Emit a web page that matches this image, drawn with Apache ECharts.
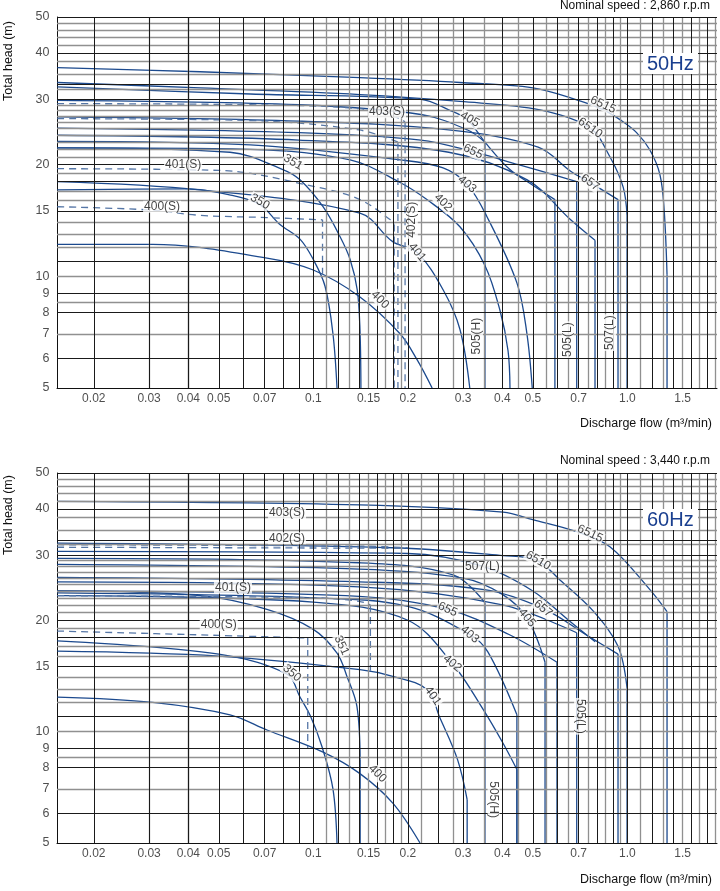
<!DOCTYPE html>
<html><head><meta charset="utf-8">
<script src="https://cdn.jsdelivr.net/npm/echarts@6/dist/echarts.min.js"></script>
<style>html,body{margin:0;padding:0;background:#fff;}#c{width:720px;height:891px;}</style>
</head><body><div id="c"></div>
<script>
// ---------- axes / ticks ----------
const X_MIN = 0.01527, X_MAX = 1.93, Y_MIN = 5, Y_MAX = 50;
const xTickValues = [0.02,0.03,0.04,0.05,0.07,0.1,0.15,0.2,0.3,0.4,0.5,0.7,1.0,1.5];
const xTickLabels = ['0.02','0.03','0.04','0.05','0.07','0.1','0.15','0.2','0.3','0.4','0.5','0.7','1.0','1.5'];
const yTickValues = [5,6,7,8,9,10,15,20,30,40,50];
const yTickLabels = ['5','6','7','8','9','10','15','20','30','40','50'];
const xGridBlack = [0.02,0.03,0.04,0.05,0.06,0.07,0.08,0.09,0.1,0.12,0.14,0.16,0.18,0.2,0.25,0.3,0.4,0.5,0.6,0.7,0.8,0.9,1.0,1.2,1.4,1.6,1.8];
const xGridGray = [0.025,0.035,0.045,0.11,0.13,0.15,0.17,0.19,0.22,0.28,0.35,0.45,0.55,0.65,0.75,0.85,0.95,1.1,1.3,1.5,1.7,1.9];
const yGridBlack = [6,8,9,11,15,18,20,30,33,40,50];
const yGridGray = [7,8.5,10,12,13,14,16,17,19,21,22,23,24,25,26,27,28,29,32,35,38,42,44,46,48];

// ---------- 50 Hz curves [flow m3/min, head m] ----------
const c50_6515 = [[0.0153,36.5],[0.0436,35.6],[0.1408,34.3],[0.293,33.3],[0.50,32.2],[0.69,29.9],[0.84,28.1],[0.95,26.4],[1.07,24.4],[1.18,21.9],[1.27,18.8],[1.31,15.1],[1.338,10.1],[1.338,5]];
const c50_6510 = [[0.0153,33.3],[0.0436,32.2],[0.1408,30.9],[0.293,29.6],[0.527,28.1],[0.761,25.1],[0.88,21.0],[0.97,17.4],[0.998,14.6],[0.998,5]];
const c50_405  = [[0.0153,32.4],[0.063,31.0],[0.22,30.0],[0.27,28.1],[0.31,26.4],[0.352,23.0],[0.42,19.5],[0.50,17.6],[0.588,16.1],[0.588,5]];
const c50_505H = [[0.0153,29.8],[0.09,29.0],[0.22,27.3],[0.31,24.8],[0.352,23.0],[0.352,5]];
const c50_657  = [[0.0153,26.9],[0.09,26.2],[0.27,24.8],[0.52,22.3],[0.66,19.2],[0.76,17.9],[0.934,16.1],[0.934,5]];
const c50_655  = [[0.0153,25.1],[0.09,24.4],[0.22,23.3],[0.32,21.7],[0.45,20.0],[0.69,18.0],[0.69,5]];
const c50_507L = [[0.0153,24.0],[0.09,23.3],[0.27,21.6],[0.48,18.2],[0.66,14.2],[0.789,12.5],[0.789,5]];
const c50_403  = [[0.0153,23.1],[0.063,22.6],[0.189,20.6],[0.259,19.6],[0.309,17.7],[0.357,14.5],[0.445,9.6],[0.479,7.0],[0.498,5.0]];
const c50_402  = [[0.0153,22.2],[0.063,22.0],[0.131,20.6],[0.189,17.9],[0.23,16.1],[0.293,13.6],[0.352,10.7],[0.393,8.1],[0.417,6.3],[0.423,5.0]];
const c50_401  = [[0.0153,18.0],[0.0436,17.1],[0.1408,14.8],[0.179,12.4],[0.214,11.6],[0.259,9.2],[0.293,7.2],[0.315,5.0]];
const c50_400  = [[0.0153,12.2],[0.0308,12.2],[0.0712,11.2],[0.1,10.4],[0.1408,8.8],[0.1889,7.0],[0.214,5.96],[0.239,5.0]];
const c50_351  = [[0.0153,22.2],[0.0543,21.6],[0.080,19.4],[0.0907,18.2],[0.1074,15.4],[0.1216,12.8],[0.131,11.1],[0.138,9.2],[0.1408,7.2],[0.1418,5.0]];
const c50_350  = [[0.0153,17.1],[0.0395,17.2],[0.0556,16.5],[0.0676,15.6],[0.0783,13.8],[0.0907,12.6],[0.1,11.1],[0.109,9.4],[0.1155,7.0],[0.119,5.0]];
const c50_403S = [[0.0153,29.2],[0.063,29.0],[0.14,28.3],[0.19,26.6],[0.196,26.0],[0.196,5]];
const c50_402S = [[0.0153,26.6],[0.063,26.3],[0.14,24.8],[0.186,23.0],[0.186,5]];
const c50_401S = [[0.0153,19.5],[0.05,19.3],[0.1027,17.4],[0.1408,16.1],[0.176,14.2],[0.181,13.8],[0.181,5]];
const c50_400S = [[0.0153,15.4],[0.030,15.1],[0.0436,14.6],[0.0712,14.4],[0.107,14.2],[0.107,10.0]];

// ---------- 60 Hz curves ----------
const c60_6515 = [[0.0153,41.9],[0.1408,41.0],[0.402,39.2],[0.5,37.4],[0.69,34.7],[0.88,31.6],[1.18,24.2],[1.338,21.1],[1.338,5]];
const c60_6510 = [[0.0153,32.3],[0.179,31.4],[0.402,29.9],[0.516,29.0],[0.61,25.7],[0.778,21.2],[0.934,17.0],[0.998,13.1],[0.998,5]];
const c60_507L = [[0.0153,30.7],[0.2,30.3],[0.345,28.0],[0.5,24.0],[0.65,20.0],[0.79,17.5]];
const c60_505H = [[0.0153,29.4],[0.14,28.6],[0.28,26.5],[0.352,22.3],[0.352,5]];
const c60_405  = [[0.0153,28.3],[0.14,27.5],[0.3,26.0],[0.4,23.5],[0.479,20.3],[0.547,15.4],[0.547,5]];
const c60_657  = [[0.0153,26.1],[0.14,25.4],[0.35,24.2],[0.54,21.5],[0.76,18.0],[0.934,16.2],[0.934,5]];
const c60_505L = [[0.0153,25.4],[0.14,24.6],[0.4,22.0],[0.69,18.5],[0.69,5]];
const c60_655  = [[0.0153,24.0],[0.14,23.2],[0.268,21.4],[0.42,18.3],[0.597,15.4],[0.597,5]];
const c60_403  = [[0.0153,23.7],[0.1,23.0],[0.2,21.8],[0.315,18.3],[0.36,16.4],[0.445,11.1],[0.445,5]];
const c60_402  = [[0.0153,23.3],[0.1,22.4],[0.2,20.0],[0.277,15.3],[0.347,11.5],[0.402,9.3],[0.445,7.9],[0.445,5]];
const c60_401  = [[0.0153,16.5],[0.05,16.0],[0.1408,14.7],[0.179,14.1],[0.23,13.0],[0.253,10.9],[0.288,8.4],[0.309,6.55],[0.309,5]];
const c60_400  = [[0.0153,12.4],[0.0308,12.0],[0.0543,11.1],[0.0712,10.1],[0.1074,8.8],[0.1408,7.7],[0.1794,6.4],[0.2187,5.0]];
const c60_351  = [[0.0153,24.0],[0.0436,23.3],[0.0712,21.4],[0.1,18.9],[0.119,16.3],[0.128,14.1],[0.1377,11.7],[0.141,8.4],[0.141,5]];
const c60_350  = [[0.0153,17.6],[0.05,16.2],[0.0825,14.3],[0.0907,12.4],[0.098,11.0],[0.1066,9.1],[0.1155,7.0],[0.119,5.0]];
const c60_403S = [[0.0153,32.0],[0.15,31.7],[0.2,31.4]];
const c60_402S = [[0.0153,31.5],[0.19,31.3]];
const c60_401S = [[0.0153,23.3],[0.1,23.0],[0.14,22.5],[0.152,22.0],[0.152,14.6]];
const c60_400S = [[0.0153,18.7],[0.05,18.2],[0.096,17.9],[0.096,9.0]];

// ---------- curve name labels: [text, flow, head, angle] ----------
const labels50 = [['6515',0.837,29.0,-25],['6510',0.761,25.1,-35],['405',0.315,26.5,-30],['655',0.3226,21.7,-25],
  ['403',0.309,17.7,-40],['402',0.259,15.8,-45],['401',0.214,11.6,-50],['400',0.163,8.65,-45],['351',0.0862,20.3,-30],
  ['350',0.0676,15.9,-30],['657',0.7607,17.9,-35],['403(S)',0.1717,27.7,0],['401(S)',0.0385,20.0,0],['400(S)',0.033,15.4,0],
  ['402(S)',0.206,14.2,90],['505(H)',0.332,6.9,90],['505(L)',0.646,6.75,90],['507(L)',0.881,7.05,90]];
const labels60 = [['6515',0.761,34.3,-25],['6510',0.52,29.0,-30],['507(L)',0.3455,27.9,0],['657',0.539,21.5,-40],
  ['655',0.268,21.4,-25],['405',0.479,20.3,-50],['403',0.315,18.3,-40],['402',0.277,15.3,-40],['401',0.24,12.5,-55],
  ['400',0.16,7.7,-45],['351',0.123,17.1,-65],['350',0.0855,14.4,-40],['403(S)',0.0825,39.0,0],['402(S)',0.0825,33.3,0],
  ['401(S)',0.0555,24.5,0],['400(S)',0.050,19.4,0],['505(H)',0.375,6.55,-90],['505(L)',0.707,11.0,-90]];

const curves50 = [c50_6515,c50_6510,c50_405,c50_505H,c50_657,c50_655,c50_507L,c50_403,c50_402,c50_401,c50_400,c50_351,c50_350];
const dashed50 = [c50_403S,c50_402S,c50_401S,c50_400S];
const curves60 = [c60_6515,c60_6510,c60_507L,c60_505H,c60_405,c60_657,c60_505L,c60_655,c60_403,c60_402,c60_401,c60_400,c60_351,c60_350];
const dashed60 = [c60_403S,c60_402S,c60_401S,c60_400S];

const LINE = '#1c4a8e', DASH = '#5576a6', FONT = '"Liberation Sans", Arial, sans-serif';
const chart = echarts.init(document.getElementById('c'));

const grids = [{left:57, top:17, width:660, height:371}, {left:57, top:473, width:660, height:370}];
const xAxes = [0,1].map(i => ({type:'log', gridIndex:i, min:X_MIN, max:X_MAX, logBase:10,
  axisLine:{show:true, lineStyle:{color:'#111', width:1}}, axisTick:{show:false}, axisLabel:{show:false}, splitLine:{show:false}}));
const yAxes = [0,1].map(i => ({type:'log', gridIndex:i, min:Y_MIN, max:Y_MAX, logBase:10,
  axisLine:{show:true, lineStyle:{color:'#111', width:1}}, axisTick:{show:false}, axisLabel:{show:false}, splitLine:{show:false}}));

const series = [];
function gridLines() {
  const d = [];
  xGridGray.forEach(v => d.push({xAxis:v, lineStyle:{color:'#909090', width:1.3, type:'solid'}}));
  yGridGray.forEach(v => d.push({yAxis:v, lineStyle:{color:'#909090', width:1.3, type:'solid'}}));
  xGridBlack.forEach(v => d.push({xAxis:v, lineStyle:{color:'#1a1a1a', width:1, type:'solid'}}));
  yGridBlack.forEach(v => d.push({yAxis:v, lineStyle:{color:'#1a1a1a', width:1, type:'solid'}}));
  return d;
}
// split a curve into its smooth head part and its vertical run-out drop
function addCurve(g, d, dashed) {
  const style = {color: dashed ? DASH : LINE, width: 1.3, type: dashed ? [7,5] : 'solid'};
  let body = d, drop = null;
  const n = d.length;
  if (n > 2 && d[n-1][0] === d[n-2][0]) { body = d.slice(0, n-1); drop = d.slice(n-2); }
  series.push({type:'line', xAxisIndex:g, yAxisIndex:g, z:3, silent:true, symbol:'none', smooth:0.35, data:body, lineStyle:style});
  if (drop) series.push({type:'line', xAxisIndex:g, yAxisIndex:g, z:3, silent:true, symbol:'none', data:drop, lineStyle:style});
}
[0,1].forEach(g => {
  series.push({type:'scatter', xAxisIndex:g, yAxisIndex:g, z:1, silent:true, symbolSize:1,
    itemStyle:{color:'rgba(0,0,0,0)'}, data:xTickValues.map(v => [v, Y_MIN]),
    label:{show:true, position:'bottom', distance:4, formatter:p => xTickLabels[p.dataIndex], fontSize:12, color:'#222', fontFamily:FONT},
    markLine:{silent:true, symbol:['none','none'], label:{show:false}, animation:false, data:gridLines()}});
  series.push({type:'scatter', xAxisIndex:g, yAxisIndex:g, z:1, silent:true, symbolSize:1,
    itemStyle:{color:'rgba(0,0,0,0)'}, data:yTickValues.map(v => [X_MIN, v]),
    label:{show:true, position:'left', distance:7, formatter:p => yTickLabels[p.dataIndex], fontSize:12.5, color:'#222', fontFamily:FONT}});
  (g === 0 ? curves50 : curves60).forEach(d => addCurve(g, d, false));
  (g === 0 ? dashed50 : dashed60).forEach(d => addCurve(g, d, true));
  const lb = g === 0 ? labels50 : labels60;
  series.push({type:'scatter', xAxisIndex:g, yAxisIndex:g, z:6, silent:true, symbolSize:1, itemStyle:{color:'rgba(0,0,0,0)'},
    data: lb.map(l => ({name:l[0], value:[l[1], l[2]], label:{rotate:l[3]}})),
    label:{show:true, position:'inside', formatter:'{b}', fontSize:12, color:'#111', fontFamily:FONT, backgroundColor:'#fff', padding:[0,1]}});
});

chart.setOption({
  animation:false, backgroundColor:'#fff',
  grid:grids, xAxis:xAxes, yAxis:yAxes, series:series,
  graphic:[
    {type:'text', right:10, top:0, style:{text:'Nominal speed : 2,860 r.p.m', font:'12px '+FONT, fill:'#111'}},
    {type:'text', right:10, top:455, style:{text:'Nominal speed : 3,440 r.p.m', font:'12px '+FONT, fill:'#111'}},
    {type:'text', right:8, top:417, style:{text:'Discharge flow (m³/min)', font:'12.5px '+FONT, fill:'#111'}},
    {type:'text', right:8, top:873, style:{text:'Discharge flow (m³/min)', font:'12.5px '+FONT, fill:'#111'}},
    {type:'text', x:9, y:61, rotation:Math.PI/2, style:{text:'Total head (m)', font:'12.5px '+FONT, fill:'#111', textAlign:'center', textVerticalAlign:'middle'}},
    {type:'text', x:9, y:515, rotation:Math.PI/2, style:{text:'Total head (m)', font:'12.5px '+FONT, fill:'#111', textAlign:'center', textVerticalAlign:'middle'}},
    {type:'rect', left:643, top:53, shape:{width:55, height:21}, style:{fill:'#fff'}, z:10},
    {type:'text', left:647, top:54, z:11, style:{text:'50Hz', font:'20px '+FONT, fill:'#1a3f8f'}},
    {type:'rect', left:643, top:509, shape:{width:55, height:21}, style:{fill:'#fff'}, z:10},
    {type:'text', left:647, top:510, z:11, style:{text:'60Hz', font:'20px '+FONT, fill:'#1a3f8f'}}
  ]
});
</script></body></html>
